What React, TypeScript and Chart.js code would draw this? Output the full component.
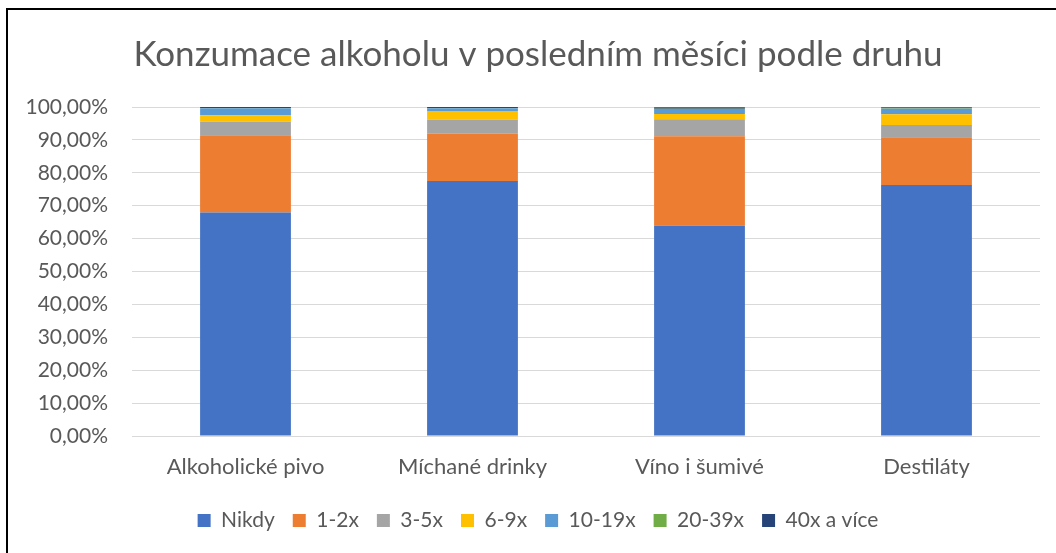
import React, { useEffect, useRef } from "react";
import { Chart, registerables } from "chart.js";

Chart.register(...registerables);

const categories = ["Alkoholické pivo", "Míchané drinky", "Víno i šumivé", "Destiláty"];
const seriesNames = ["Nikdy", "1-2x", "3-5x", "6-9x", "10-19x", "20-39x", "40x a více"];
const nikdy = [0.679, 0.775, 0.639, 0.763];
const x1_2 = [0.235, 0.144, 0.272, 0.145];
const x3_5 = [0.041, 0.042, 0.052, 0.037];
const x6_9 = [0.02, 0.027, 0.016, 0.033];
const x10_19 = [0.021, 0.008, 0.015, 0.017];
const x20_39 = [0.001, 0.001, 0.001, 0.001];
const x40 = [0.003, 0.003, 0.004, 0.003];
const seriesValues = [nikdy, x1_2, x3_5, x6_9, x10_19, x20_39, x40];
const colors = ["#4472C4", "#ED7D31", "#A5A5A5", "#FFC000", "#5B9BD5", "#70AD47", "#264478"];
const yTicks = [0, 0.1, 0.2, 0.3, 0.4, 0.5, 0.6, 0.7, 0.8, 0.9, 1.0];

const FONT = "Lato, 'Open Sans', sans-serif";

const noClip = (s: any) => {
  s._computeLabelArea = () => undefined;
};

export default function App() {
  const ref = useRef<HTMLCanvasElement | null>(null);
  useEffect(() => {
    if (!ref.current) return;
    const chart = new Chart(ref.current, {
      type: "bar",
      data: {
        labels: categories,
        datasets: seriesNames.map((name, i) => ({
          label: name,
          data: seriesValues[i],
          backgroundColor: colors[i],
          borderWidth: 0,
          barPercentage: 0.4,
          categoryPercentage: 1,
        })),
      },
      options: {
        animation: false,
        responsive: false,
        maintainAspectRatio: false,
        layout: { padding: { left: 36, right: 16, top: 34, bottom: 12 } },
        plugins: {
          title: {
            display: true,
            text: "Konzumace alkoholu v posledním měsíci podle druhu",
            color: "#595959",
            font: { family: FONT, size: 35, weight: "normal" },
            padding: { top: 0, bottom: 31 },
          },
          legend: {
            position: "bottom",
            labels: {
              color: "#595959",
              font: { family: FONT, size: 21 },
              boxWidth: 13,
              boxHeight: 13,
              padding: 18,
            },
          },
          tooltip: { enabled: false },
        },
        scales: {
          x: {
            stacked: true,
            grid: { display: false },
            border: { display: false },
            ticks: { color: "#595959", font: { family: FONT, size: 22 }, padding: 10 },
            afterFit: (s: any) => {
              s.height = 56;
              noClip(s);
            },
          },
          y: {
            stacked: true,
            min: 0,
            max: 1,
            afterBuildTicks: (s: any) => {
              s.ticks = yTicks.map((v) => ({ value: v }));
            },
            afterFit: (s: any) => {
              s.width = 96;
              noClip(s);
            },
            grid: { color: "#D9D9D9", lineWidth: 1, drawTicks: false },
            border: { display: false },
            ticks: {
              color: "#595959",
              font: { family: FONT, size: 21 },
              padding: 24,
              callback: (v: any) => (Number(v) * 100).toFixed(2).replace(".", ",") + "%",
            },
          },
        },
      },
    });
    return () => chart.destroy();
  }, []);
  return (
    <div style={{ position: "absolute", left: 0, top: 0, width: 1056, height: 553, background: "#fff", overflow: "hidden" }}>
      <div
        style={{
          position: "absolute",
          left: 6,
          top: 8,
          width: 1200,
          height: 700,
          borderTop: "2px solid #000",
          borderLeft: "2px solid #000",
        }}
      />
      <canvas ref={ref} width={1056} height={553} style={{ position: "absolute", left: 0, top: 0 }} />
    </div>
  );
}
